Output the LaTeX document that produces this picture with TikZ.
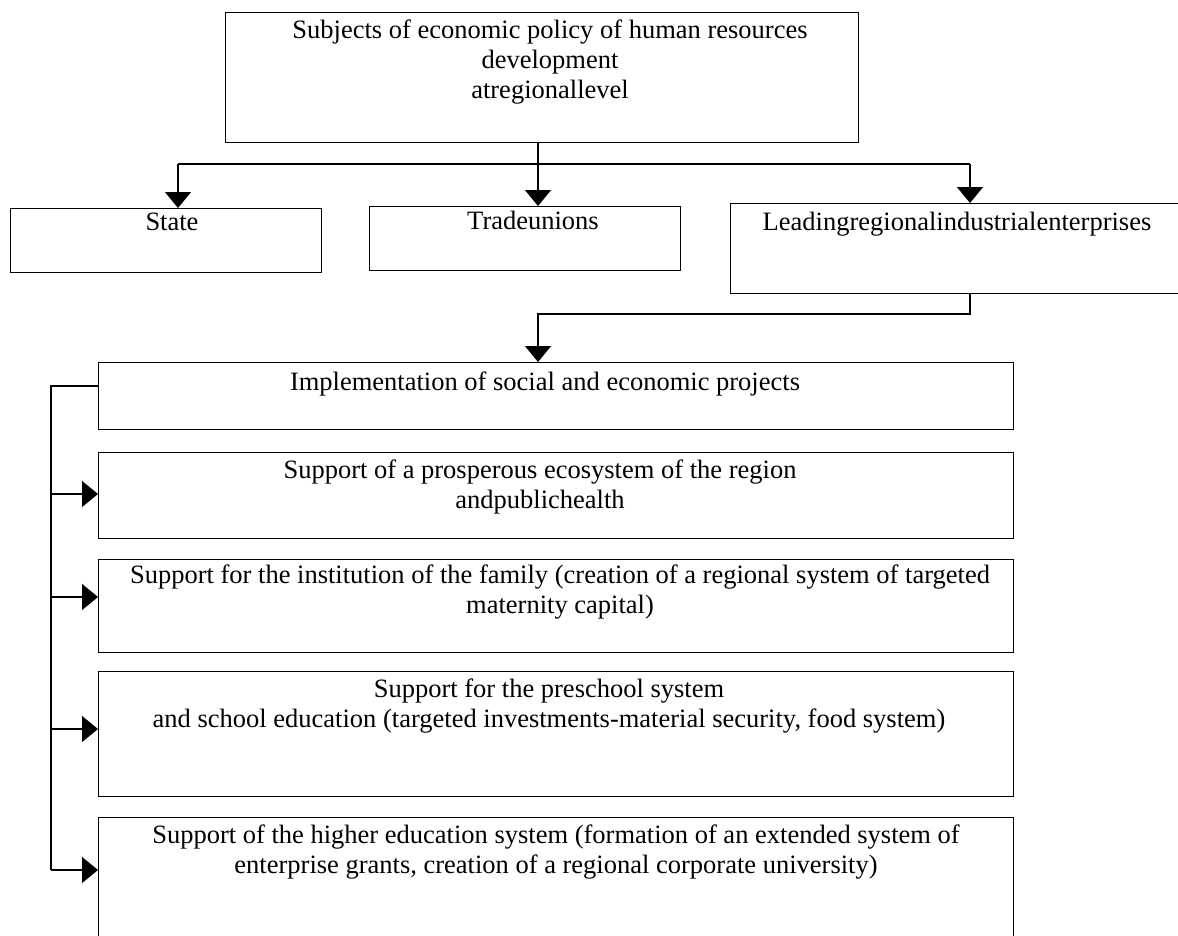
\documentclass[tikz,border=0pt]{standalone}
\usepackage{fontspec}
\setmainfont{Liberation Serif}
\usetikzlibrary{arrows.meta}
\begin{document}
\begin{tikzpicture}[x=1pt,y=-1pt,
  box/.style={draw, line width=1.2pt, rectangle, inner sep=0pt, anchor=north west},
  txt/.style={font=\fontsize{26.5}{30}\selectfont, align=center, inner sep=0pt, anchor=north},
  ln/.style={line width=1.2pt},
  arr/.style={line width=1.2pt, -{Triangle[length=16pt,width=26pt]}}]
\path[use as bounding box, clip] (0,0) rectangle (1178,935);
\fill[white] (0,0) rectangle (1178,935);
% boxes
\node[box, minimum width=633pt, minimum height=130pt] (top) at (225,12) {};
\node[box, minimum width=311pt, minimum height=64pt] (st) at (10,208) {};
\node[box, minimum width=311pt, minimum height=64pt] (tu) at (369,206) {};
\node[box, minimum width=456pt, minimum height=90pt] (ld) at (730,203) {};
\node[box, minimum width=915pt, minimum height=67pt] (b1) at (98,362) {};
\node[box, minimum width=915pt, minimum height=86pt] (b2) at (98,452) {};
\node[box, minimum width=915pt, minimum height=93pt] (b3) at (98,559) {};
\node[box, minimum width=915pt, minimum height=125pt] (b4) at (98,671) {};
\node[box, minimum width=915pt, minimum height=140pt] (b5) at (98,817) {};
% texts
\node[txt] (ttop) at (550,20) {Subjects of economic policy of human resources\\development\\atregionallevel};
\node[txt] (tst) at (172,213) {State};
\node[txt] (ttu) at (533,211) {Tradeunions};
\node[txt] (tld) at (957,212) {Leadingregionalindustrialenterprises};
\node[txt] (tb1) at (545,372) {Implementation of social and economic projects};
\node[txt] (tb2) at (540,460) {Support of a prosperous ecosystem of the region\\andpublichealth};
\node[txt] (tb3) at (560,565) {Support for the institution of the family (creation of a regional system of targeted\\maternity capital)};
\node[txt] (tb4) at (549,679) {Support for the preschool system\\and school education (targeted investments-material security, food system)};
\node[txt] (tb5) at (556,825) {Support of the higher education system (formation of an extended system of\\enterprise grants, creation of a regional corporate university)};
% connectors top
\coordinate (hl) at (178,164);
\coordinate (hm) at (538,164);
\coordinate (hr) at (970,164);
\draw[ln] (hl) -- (hr);
\draw[arr] (hl) -- (hl |- st.north);
\draw[arr] (top.south -| hm) -- (hm |- tu.north);
\draw[arr] (hr) -- (hr |- ld.north);
% leading to implementation
\coordinate (c1) at (970,314);
\draw[arr] (ld.south -| c1) -- (c1) -| (b1.north -| hm);
% bracket
\coordinate (k0) at (51,386);
\coordinate (k1) at (51,494);
\coordinate (k2) at (51,597);
\coordinate (k3) at (51,729);
\coordinate (k4) at (51,870);
\draw[ln] (b1.west |- k0) -- (k0) -- (k4);
\draw[arr] (k1) -- (b2.west |- k1);
\draw[arr] (k2) -- (b3.west |- k2);
\draw[arr] (k3) -- (b4.west |- k3);
\draw[arr] (k4) -- (b5.west |- k4);
\end{tikzpicture}
\end{document}
